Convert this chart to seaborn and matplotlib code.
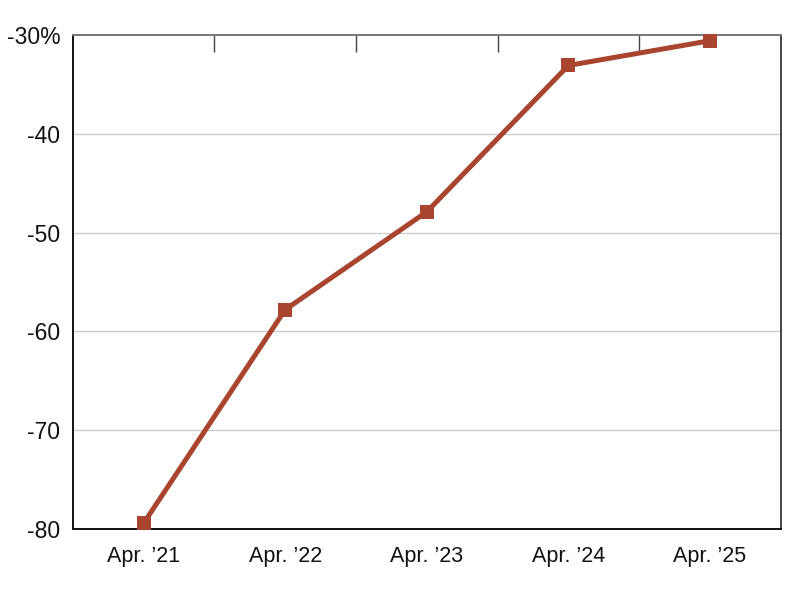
import matplotlib
matplotlib.use("Agg")
import matplotlib.pyplot as plt
import seaborn as sns
import pandas as pd
import numpy as np

# data
periods = ["Apr. \u201921", "Apr. \u201922", "Apr. \u201923", "Apr. \u201924", "Apr. \u201925"]
values = [-79.4, -57.8, -47.9, -33.1, -30.6]

y_ticks = [-80, -70, -60, -50, -40, -30]
y_labels = ["-80", "-70", "-60", "-50", "-40", "-30%"]

df = pd.DataFrame({"period": periods, "value": values})
df["pos"] = np.arange(len(periods))

sns.set_style("white")
plt.rcParams['font.family'] = ['Liberation Sans', 'DejaVu Sans']

fig = plt.figure(figsize=(8, 6), dpi=100)
ax = fig.add_axes([0.091, 0.118, 0.885, 0.824])

sns.lineplot(data=df, x="pos", y="value", ax=ax, color="#a9452e", linewidth=3.6,
             marker="s", markersize=10, markeredgewidth=0, zorder=5, clip_on=False)

ax.set_xlim(-0.5, len(periods) - 0.5)
ax.set_ylim(-80, -30)
ax.set_xticks(df["pos"])
ax.set_xticklabels(periods, fontsize=15.5)
ax.set_xticks(df["pos"][:-1] + 0.5, minor=True)
ax.set_yticks(y_ticks)
ax.set_yticklabels(y_labels, fontsize=16.5)
ax.set_xlabel("")
ax.set_ylabel("")

ax.tick_params(axis="x", which="major", length=0, pad=12, colors="#111111")
ax.tick_params(axis="x", which="minor", bottom=False, top=True, direction="in",
               length=12, width=1.0, color="#444444")
ax.tick_params(axis="y", length=0, pad=9, colors="#111111")

for t in y_ticks[1:-1]:
    ax.axhline(t, color="#cccccc", linewidth=1, zorder=1)

ax.spines["left"].set_color("#111111")
ax.spines["bottom"].set_color("#111111")
ax.spines["top"].set_color("#777777")
ax.spines["right"].set_color("#444444")
for s in ax.spines.values():
    s.set_linewidth(1.4)
    s.set_visible(True)

fig.savefig("out.png", dpi=100)
